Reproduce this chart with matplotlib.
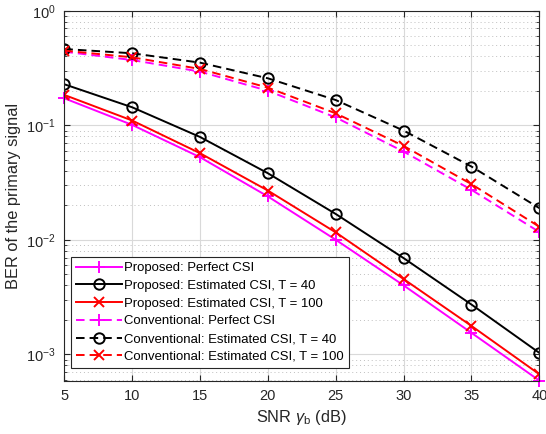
import numpy as np
import matplotlib.pyplot as plt

plt.rcParams['font.family'] = ['Liberation Sans', 'DejaVu Sans']
plt.rcParams['mathtext.fontset'] = 'custom'
plt.rcParams['mathtext.rm'] = 'Liberation Sans'
plt.rcParams['mathtext.it'] = 'Liberation Sans:italic'

# SNR values (dB)
snr = [5, 10, 15, 20, 25, 30, 35, 40]

# BER curves
prop_perfect = [0.172, 0.1007, 0.0526, 0.0239, 0.0100, 0.0040, 0.00154, 0.00059]
prop_t40 = [0.228, 0.1435, 0.079, 0.0381, 0.0168, 0.00692, 0.00272, 0.00103]
prop_t100 = [0.184, 0.110, 0.057, 0.0269, 0.0116, 0.00454, 0.00177, 0.00067]
conv_perfect = [0.439, 0.371, 0.294, 0.200, 0.117, 0.0589, 0.0273, 0.0117]
conv_t40 = [0.463, 0.425, 0.352, 0.257, 0.166, 0.0898, 0.0436, 0.0189]
conv_t100 = [0.448, 0.392, 0.310, 0.213, 0.127, 0.066, 0.0306, 0.0130]

labels = ['Proposed: Perfect CSI',
          'Proposed: Estimated CSI, T = 40',
          'Proposed: Estimated CSI, T = 100',
          'Conventional: Perfect CSI',
          'Conventional: Estimated CSI, T = 40',
          'Conventional: Estimated CSI, T = 100']

axcol = (0.15, 0.15, 0.15)

fig = plt.figure(figsize=(5.46, 4.34), dpi=100)
ax = fig.add_axes([0.1178, 0.1221, 0.87, 0.8532])

lw = 1.4
dash = (4.4, 2.6)
ax.plot(snr, prop_perfect, '-', color='#ff00ff', marker='+', ms=8.5, mew=1.4, lw=lw, label=labels[0], clip_on=False)
ax.plot(snr, prop_t40, '-', color='black', marker='o', ms=7.5, mfc='none', mew=1.4, lw=lw, label=labels[1])
ax.plot(snr, prop_t100, '-', color='red', marker='x', ms=6.5, mew=1.4, lw=lw, label=labels[2])
ax.plot(snr, conv_perfect, '--', dashes=dash, color='#ff00ff', marker='+', ms=8.5, mew=1.4, lw=lw, label=labels[3])
ax.plot(snr, conv_t40, '--', dashes=dash, color='black', marker='o', ms=7.5, mfc='none', mew=1.4, lw=lw, label=labels[4])
ax.plot(snr, conv_t100, '--', dashes=dash, color='red', marker='x', ms=6.5, mew=1.4, lw=lw, label=labels[5])

ax.set_yscale('log')
ax.set_xlim(5, 40)
ax.set_ylim(5.85e-4, 1)
ax.set_xticks(snr)

ax.grid(True, which='major', color=(0.85, 0.85, 0.85), linewidth=0.8)
ax.grid(True, which='minor', axis='y', color=(0.75, 0.75, 0.75), linestyle=(0, (1, 3)), linewidth=0.7)
ax.set_axisbelow(True)

ax.tick_params(which='both', direction='in', top=True, right=True, colors=axcol, labelsize=10.5)
ax.tick_params(which='major', length=4, pad=6)
ax.tick_params(which='minor', length=2.5)
for s in ax.spines.values():
    s.set_color(axcol)
    s.set_linewidth(0.8)

ax.set_xlabel(r'SNR $\gamma_\mathrm{b}$ (dB)', fontsize=11.8, color=axcol, labelpad=3)
ax.set_ylabel('BER of the primary signal', fontsize=11.8, color=axcol, labelpad=4)

leg = ax.legend(loc='lower left', bbox_to_anchor=(0.014, 0.035), fontsize=9.45,
                fancybox=False, framealpha=1, edgecolor=axcol, handlelength=3.5,
                handletextpad=0.15, borderpad=0.4, labelspacing=0.42, borderaxespad=0)
leg.get_frame().set_linewidth(0.8)

fig.savefig('out.png', dpi=100)
